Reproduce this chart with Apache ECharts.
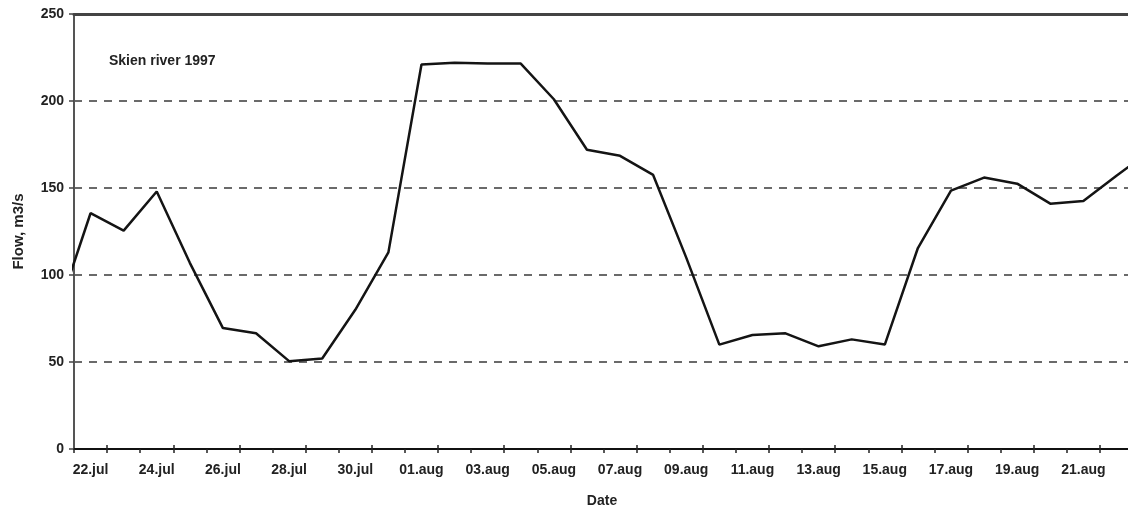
<!DOCTYPE html>
<html>
<head>
<meta charset="utf-8">
<title>Skien river 1997</title>
<script src="https://cdn.jsdelivr.net/npm/echarts@6/dist/echarts.min.js"></script>
<style>
  html, body { margin: 0; padding: 0; background: #fff; }
  #chart { width: 1128px; height: 511px; }
</style>
</head>
<body>
<div id="chart"></div>
<script>
// Daily flow, Skien river, 21 Jul - 23 Aug 1997 (m3/s).
// The first and last day sit just outside the visible window.
const days = [
  '21.jul', '22.jul', '23.jul', '24.jul', '25.jul', '26.jul', '27.jul', '28.jul',
  '29.jul', '30.jul', '31.jul', '01.aug', '02.aug', '03.aug', '04.aug', '05.aug',
  '06.aug', '07.aug', '08.aug', '09.aug', '10.aug', '11.aug', '12.aug', '13.aug',
  '14.aug', '15.aug', '16.aug', '17.aug', '18.aug', '19.aug', '20.aug', '21.aug',
  '22.aug', '23.aug'
];
const flow = [
  78.5, 135.5, 125.5, 148, 107, 69.5, 66.5, 50.5,
  52, 80, 113, 221, 222, 221.5, 221.5, 201,
  172, 168.5, 157.5, 110, 60, 65.5, 66.5, 59,
  63, 60, 115.5, 148.5, 156, 152.5, 141, 142.5,
  157, 171
];
const yTicks = [0, 50, 100, 150, 200, 250];

// Categories shown on the date axis: 22.jul .. 22.aug
const shownDays = days.slice(1, days.length - 1);

const textColor = '#222';
const font = 'Liberation Sans, Arial, sans-serif';

const chart = echarts.init(document.getElementById('chart'), null, { renderer: 'canvas' });

const grid = { left: 74, top: 14, width: 1059, height: 435, containLabel: false, outerBoundsMode: 'none' };

chart.setOption({
  backgroundColor: '#fff',
  animation: false,
  title: [
    {
      text: 'Skien river 1997',
      left: 109, top: 54, padding: 0,
      textStyle: { fontFamily: font, fontSize: 14, fontWeight: 'bold', color: textColor }
    },
    {
      text: 'Date',
      left: 602, top: 494, padding: 0, textAlign: 'center',
      textStyle: { fontFamily: font, fontSize: 14, fontWeight: 'bold', color: textColor }
    }
  ],
  grid: grid,
  xAxis: [
    {
      // date labels and day ticks
      type: 'category',
      data: shownDays,
      boundaryGap: true,
      position: 'bottom',
      axisLine: { show: true, onZero: false, lineStyle: { color: '#111', width: 2 } },
      axisTick: { show: true, interval: 0, length: 4, lineStyle: { color: '#222', width: 1.5 } },
      axisLabel: {
        interval: (i) => i % 2 === 0,
        margin: 14,
        fontFamily: font, fontSize: 14, fontWeight: 'bold', color: textColor
      },
      splitLine: { show: false }
    },
    {
      // continuous day scale that carries the flow series
      type: 'value',
      min: 0,
      max: shownDays.length,
      show: false
    },
    {
      // longer ticks every second day, reaching into the plot
      type: 'category',
      data: shownDays,
      boundaryGap: true,
      position: 'bottom',
      axisLine: { show: false, onZero: false },
      axisTick: { show: true, inside: true, interval: (i) => i % 2 === 1, length: 4, lineStyle: { color: '#222', width: 1.5 } },
      axisLabel: { show: false },
      splitLine: { show: false }
    },
    {
      // plot frame along the top
      type: 'category',
      data: shownDays,
      position: 'top',
      axisLine: { show: true, onZero: false, lineStyle: { color: '#444', width: 3 } },
      axisTick: { show: false },
      axisLabel: { show: false },
      splitLine: { show: false }
    }
  ],
  yAxis: {
    type: 'value',
    min: yTicks[0],
    max: yTicks[yTicks.length - 1],
    interval: 50,
    name: 'Flow, m3/s',
    nameLocation: 'middle',
    nameGap: 48,
    nameTextStyle: { fontFamily: font, fontSize: 15, fontWeight: 'bold', color: textColor },
    axisLine: { show: true, lineStyle: { color: '#555', width: 2 } },
    axisTick: { show: true, length: 5, lineStyle: { color: '#444', width: 1.5 } },
    axisLabel: { margin: 10, fontFamily: font, fontSize: 14, fontWeight: 'bold', color: textColor },
    splitLine: {
      show: true,
      lineStyle: { color: '#6a6a6a', width: 2, type: [8, 7] }
    }
  },
  series: [
    {
      name: 'Flow',
      type: 'line',
      xAxisIndex: 1,
      data: flow.map((v, i) => [i - 0.5, v]),
      showSymbol: false,
      symbol: 'none',
      clip: true,
      lineStyle: { color: '#141414', width: 2.5 },
      z: 5
    }
  ]
});
</script>
</body>
</html>
